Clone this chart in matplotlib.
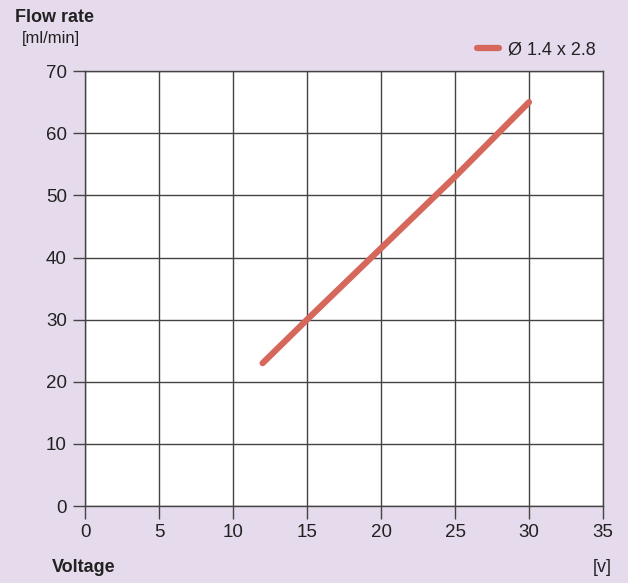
import matplotlib
matplotlib.use("Agg")
import matplotlib.pyplot as plt
from matplotlib import font_manager

# data
voltage = [12, 15, 20, 25, 30]
flow_rate = [23, 30, 41.5, 53, 65]
series_label = "Ø 1.4 x 2.8"
x_ticks = [0, 5, 10, 15, 20, 25, 30, 35]
y_ticks = [0, 10, 20, 30, 40, 50, 60, 70]

bg = "#e6dbec"
line_color = "#d5675b"

names = {f.name for f in font_manager.fontManager.ttflist}
family = "Liberation Sans Narrow" if "Liberation Sans Narrow" in names else "Liberation Sans"
plt.rcParams["font.family"] = [family, "DejaVu Sans"]

fig = plt.figure(figsize=(6.28, 5.83), dpi=100, facecolor=bg)
ax = fig.add_axes([0.1354, 0.132, 0.8248, 0.746])
ax.set_facecolor("white")

ax.plot(voltage, flow_rate, color=line_color, lw=4.5, solid_capstyle="round",
        label=series_label)

ax.set_xlim(0, 35)
ax.set_ylim(0, 70)
ax.set_xticks(x_ticks)
ax.set_yticks(y_ticks)
ax.grid(True, color="#444444", lw=1)
ax.set_axisbelow(True)
for s in ax.spines.values():
    s.set_color("#444444")
    s.set_linewidth(1)
ax.tick_params(length=9, width=1, color="#444444", labelsize=13.5, labelcolor="#222222", pad=4)

fig.text(15 / 628, 1 - 18 / 583, "Flow rate", fontsize=13, fontweight="bold",
         color="#222222", va="center", ha="left")
fig.text(22 / 628, 1 - 38 / 583, "[ml/min]", fontsize=12, color="#222222",
         va="center", ha="left")
fig.text(52 / 628, 1 - 567 / 583, "Voltage", fontsize=13, fontweight="bold",
         color="#222222", va="center", ha="left")
fig.text(612 / 628, 1 - 567 / 583, "[v]", fontsize=13, color="#222222",
         va="center", ha="right")

fig.legend(loc="center right", bbox_to_anchor=(612 / 628, 1 - 50 / 583),
           frameon=False, fontsize=13, handlelength=1.2, handletextpad=0.5,
           labelcolor="#222222")

fig.savefig("out.png", dpi=100, facecolor=bg)
